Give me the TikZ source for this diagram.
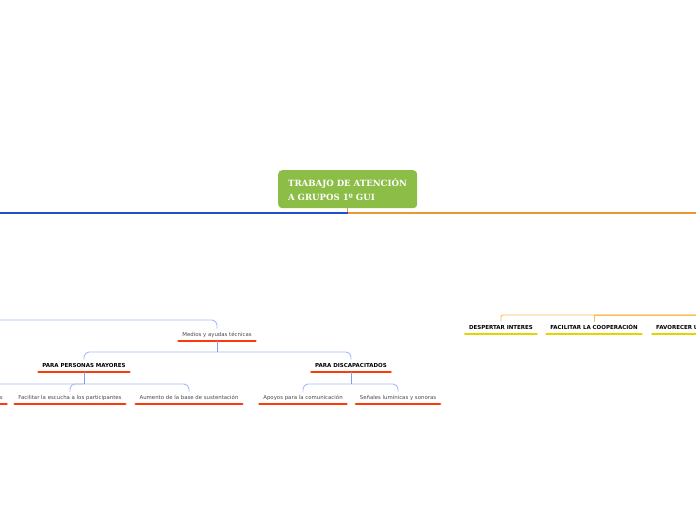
\documentclass[tikz,border=0pt]{standalone}
\usepackage{fontspec}
\setsansfont{DejaVu Sans}
\newfontfamily\titlefont{DejaVu Serif}
\definecolor{RootGreen}{HTML}{8BBD47}
\definecolor{MainBlue}{HTML}{1F4FC8}
\definecolor{SoftBlue}{HTML}{A3BBF6}
\definecolor{StemBlue}{HTML}{7F9EEB}
\definecolor{MainOrange}{HTML}{E89A2E}
\definecolor{SoftOrange}{HTML}{F7BE5A}
\definecolor{BarRed}{HTML}{FF3A0A}
\definecolor{BarYellow}{HTML}{E6D400}
\definecolor{LabelGray}{HTML}{4A4A4A}
\usetikzlibrary{positioning}

\tikzset{
  topic/.style={
    anchor=south,
    inner xsep=5pt,
    inner ysep=3.5pt,
    text height=4pt,
    text depth=1pt,
    append after command={
      (\tikzlastnode.south west) edge[draw=#1, line width=2.8pt, line cap=round,
        shorten <=1.4pt, shorten >=1.4pt] (\tikzlastnode.south east)}
  },
  small/.style={topic=BarRed, font=\sffamily\fontsize{5.4}{6}\selectfont, text=LabelGray},
  heading/.style={topic=#1, font=\sffamily\bfseries\fontsize{5.5}{6}\selectfont, text=black},
  blueconn/.style={draw=SoftBlue, line width=0.9pt, rounded corners=5pt},
  orangeconn/.style={draw=SoftOrange, line width=0.9pt, rounded corners=2pt}
}

\begin{document}
\begin{tikzpicture}[x=1pt, y=-1pt]
  \useasboundingbox (0,0) rectangle (696,520);

  \node[
    fill=RootGreen,
    rounded corners=4pt,
    anchor=north west,
    minimum width=139pt,
    minimum height=38pt,
    inner xsep=10pt,
    text width=119pt,
    align=left,
    text=white,
    font=\titlefont\bfseries\fontsize{8.6}{14}\selectfont
  ] (root) at (278,170) {TRABAJO DE ATENCIÓN\\A GRUPOS 1º GUI};

  \coordinate (west) at (0,213);
  \coordinate (east) at (696,213);
  \draw[draw=MainOrange, line width=1.2pt] (root.south) |- (east);
  \draw[draw=MainBlue, line width=1.2pt] (root.south |- west) -- (west);

  % blue side
  \coordinate (bluein) at (0,320);
  \node[small] (medios) at (217,341) {Medios y ayudas técnicas};
  \node[heading=BarRed] (mayores) at (84,372) {PARA PERSONAS MAYORES};
  \node[heading=BarRed] (discap) at (351,372) {PARA DISCAPACITADOS};
  \node[small, anchor=south east] (amplif) at (8,404) {Sistemas de amplificación de sonidos};
  \node[small] (escucha) at (70,404) {Facilitar la escucha a los participantes};
  \node[small] (sustento) at (189,404) {Aumento de la base de sustentación};
  \node[small] (apoyos) at (303,404) {Apoyos para la comunicación};
  \node[small] (senales) at (398,404) {Señales lumínicas y sonoras};

  \draw[blueconn] (bluein) -| (medios.north);
  \foreach \kid in {mayores,discap}
    \draw[blueconn] (medios.south) ++(0,11) -| (\kid.north);
  \draw[StemBlue, line width=0.9pt] (medios.south) -- ++(0,11);
  \foreach \kid in {amplif,escucha,sustento}
    \draw[blueconn] (mayores.south) ++(0,12) -| (\kid.north);
  \foreach \kid in {apoyos,senales}
    \draw[blueconn] (discap.south) ++(0,12) -| (\kid.north);
  \draw[StemBlue, line width=0.9pt] (mayores.south) -- ++(0,12);
  \draw[StemBlue, line width=0.9pt] (discap.south) -- ++(0,12);

  % orange side
  \coordinate (orangein) at (696,315);
  \node[heading=BarYellow] (despertar) at (501,334) {DESPERTAR INTERES};
  \node[heading=BarYellow] (coopera) at (594,334) {FACILITAR LA COOPERACIÓN};
  \node[heading=BarYellow, anchor=south west] (favorece) at (651,334) {FAVORECER UN CLIMA POSITIVO};

  \draw[orangeconn] (orangein) -| (despertar.north);
  \draw[draw=SoftOrange, line width=0.9pt] (coopera.north) |- (orangein);
  \draw[orangeconn] (coopera.north |- orangein) -| (favorece.north);
\end{tikzpicture}
\end{document}
